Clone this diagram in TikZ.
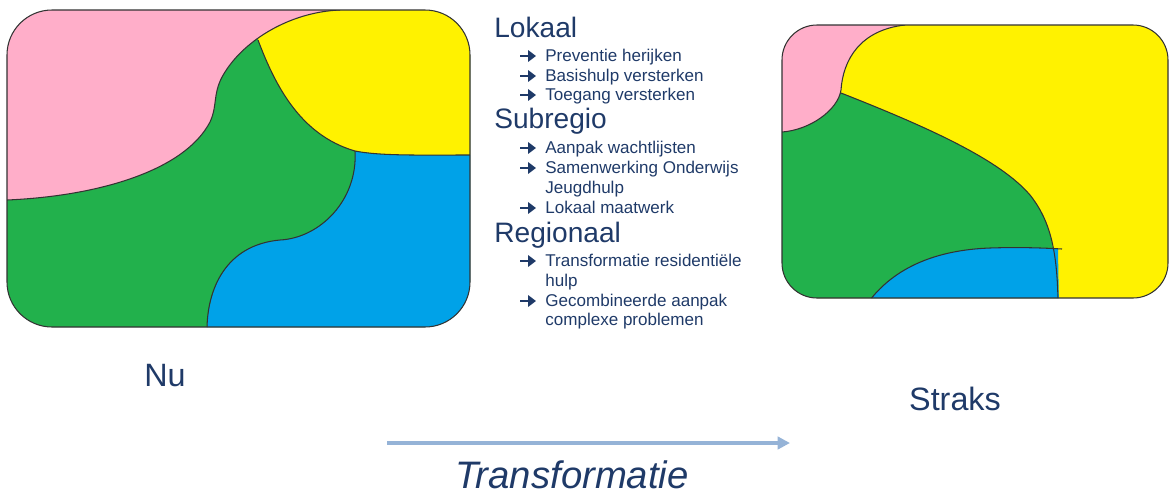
\documentclass[tikz,border=0pt]{standalone}
\usepackage{fontspec}
\setmainfont{Liberation Sans}
\usetikzlibrary{arrows.meta}
\usepackage{xcolor}
\definecolor{roze}{HTML}{FFAEC9}
\definecolor{geel}{HTML}{FFF200}
\definecolor{groen}{HTML}{22B14C}
\definecolor{blauw}{HTML}{00A2E8}
\definecolor{donkerblauw}{HTML}{1F3A68}
\definecolor{lichtblauw}{HTML}{95B3D7}

\begin{document}
\begin{tikzpicture}[x=0.02cm,y=-0.02cm,
		kop/.style={anchor=base west,inner sep=0pt,text=donkerblauw,font=\fontsize{16}{19}\selectfont},
		item/.style={anchor=base west,inner sep=0pt,text=donkerblauw,font=\fontsize{9.7}{11.6}\selectfont},
		pijltje/.style={donkerblauw,line width=1.6pt,-{Triangle[length=4.5pt,width=6.5pt]}},
		label/.style={anchor=base,inner sep=0pt,text=donkerblauw,font=\fontsize{18.4}{22}\selectfont},
		grens/.style={draw=black!80,line width=0.6pt}]
		\useasboundingbox (0,0) rectangle (1171,501);

		% Nu
		\begin{scope}
		\clip[rounded corners=0.9cm] (7,10) rectangle (470,327);
		\fill[groen] (0,0) rectangle (480,340);
		\fill[geel] (258,40) .. controls (275,85) and (300,135) .. (355,151)
			.. controls (380,156) and (420,155) .. (480,155) -- (480,0) -- (258,0) -- cycle;
		\fill[roze] (0,0) -- (0,200) -- (7,200) .. controls (100,196) and (185,170) .. (210,122)
			.. controls (218,105) and (212,92) .. (225,72)
			.. controls (245,40) and (290,12) .. (340,10) -- (340,0) -- cycle;
		\fill[blauw] (355,151) .. controls (358,200) and (320,238) .. (280,240)
			.. controls (225,245) and (207,290) .. (207,335) -- (480,335) -- (480,155)
			.. controls (420,155) and (380,156) .. (355,151) -- cycle;
		\draw[grens] (7,200) .. controls (100,196) and (185,170) .. (210,122)
			.. controls (218,105) and (212,92) .. (225,72)
			.. controls (245,40) and (290,12) .. (340,10);
		\draw[grens] (258,40) .. controls (275,85) and (300,135) .. (355,151)
			.. controls (380,156) and (420,155) .. (470,155);
		\draw[grens] (355,151) .. controls (358,200) and (320,238) .. (280,240)
			.. controls (225,245) and (207,290) .. (207,330);
		\end{scope}
		\draw[grens,rounded corners=0.9cm] (7,10) rectangle (470,327);

		% Straks
		\begin{scope}
		\clip[rounded corners=0.7cm] (782,25) rectangle (1168,298);
		\fill[geel] (770,0) rectangle (1180,310);
		\fill[groen] (770,93) -- (841,93) .. controls (930,128) and (1000,160) .. (1030,195)
			.. controls (1050,220) and (1057,250) .. (1058,310) -- (770,310) -- cycle;
		\fill[roze] (770,0) -- (770,132) -- (782,132) .. controls (810,130) and (838,110) .. (841,90)
			.. controls (843,60) and (860,30) .. (905,25) -- (905,0) -- cycle;
		\fill[blauw] (865,310) -- (870,300) .. controls (895,268) and (935,250) .. (990,248)
			.. controls (1020,247) and (1045,248) .. (1058,249) -- (1059,310) -- cycle;
		\draw[grens] (782,132) .. controls (810,130) and (838,110) .. (841,90)
			.. controls (843,60) and (860,30) .. (905,25);
		\draw[grens] (841,93) .. controls (930,128) and (1000,160) .. (1030,195)
			.. controls (1050,220) and (1057,250) .. (1058,300);
		\draw[grens] (870,300) .. controls (895,268) and (935,250) .. (990,248)
			.. controls (1020,247) and (1045,248) .. (1062,249);
		\end{scope}
		\draw[grens,rounded corners=0.7cm] (782,25) rectangle (1168,298);

		% tekst
		\node[kop] (lokaal) at (494,37) {Lokaal};
		\node[kop] (subregio) at (494,128) {Subregio};
		\node[kop] (regionaal) at (494,242) {Regionaal};
		\foreach \y/\tekst in {61/Preventie herijken, 81/Basishulp versterken, 100/Toegang versterken,
			153/Aanpak wachtlijsten, 173/Samenwerking Onderwijs, 213/Lokaal maatwerk,
			266/Transformatie residentiële, 306/Gecombineerde aanpak}{
			\node[item] (i\y) at (545,\y) {\tekst};
			\draw[pijltje] (520,\y-5) -- (536,\y-5);
		}
		\node[item] (i193) at (545,193) {Jeugdhulp};
		\node[item] (i286) at (545,286) {hulp};
		\node[item] (i325) at (545,325) {complexe problemen};

		\node[label] (nu) at (165,386) {Nu};
		\node[label] (straks) at (955,410) {Straks};

		\coordinate (van) at (387,443);
		\coordinate (naar) at (790,443);
		\draw[lichtblauw,line width=2.3pt,-{Triangle[length=7pt,width=7pt]}] (van) -- (naar);
		\node[label,font=\itshape\fontsize{21.8}{26}\selectfont] (transformatie) at (572,488) {Transformatie};
	\end{tikzpicture}
\end{document}
